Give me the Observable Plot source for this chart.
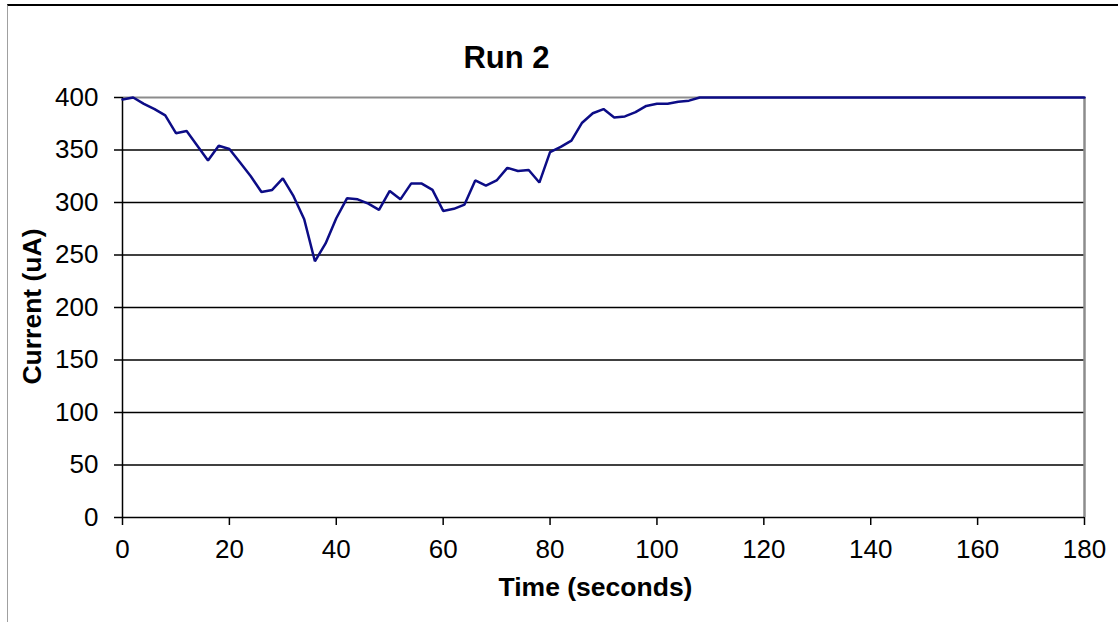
<!DOCTYPE html>
<html>
<head>
<meta charset="utf-8">
<script src="https://cdn.jsdelivr.net/npm/d3@7"></script>
<script src="https://cdn.jsdelivr.net/npm/@observablehq/plot@0.6"></script>
<style>
  html, body { margin: 0; padding: 0; background: #fff; }
  #wrap { position: relative; width: 1118px; height: 622px; overflow: hidden; }
  #frame { position: absolute; left: 7px; top: 4px; right: 0; bottom: 0; border-top: 2px solid #000; border-left: 1px solid #a0a0a0; pointer-events: none; }
  #chart { position: absolute; left: 0; top: 0; }
</style>
</head>
<body>
<div id="wrap"><div id="frame"></div><div id="chart"></div></div>
<script>
const title = "Run 2";
const xLabel = "Time (seconds)";
const yLabel = "Current (uA)";
const xTicks = [0, 20, 40, 60, 80, 100, 120, 140, 160, 180];
const yTicks = [0, 50, 100, 150, 200, 250, 300, 350, 400];

const times = [
  0, 2, 4, 6, 8, 10, 12, 14, 16, 18,
  20, 22, 24, 26, 28, 30, 32, 34, 36, 38,
  40, 42, 44, 46, 48, 50, 52, 54, 56, 58,
  60, 62, 64, 66, 68, 70, 72, 74, 76, 78,
  80, 82, 84, 86, 88, 90, 92, 94, 96, 98,
  100, 102, 104, 106, 108, 110, 112, 114, 116, 118,
  120, 122, 124, 126, 128, 130, 132, 134, 136, 138,
  140, 142, 144, 146, 148, 150, 152, 154, 156, 158,
  160, 162, 164, 166, 168, 170, 172, 174, 176, 178,
  180
];
const current = [
  398, 400, 394, 389, 383, 366, 368, 354, 340, 354,
  351, 338, 325, 310, 312, 323, 306, 284, 244, 261,
  285, 304, 303, 299, 293, 311, 303, 318, 318, 312,
  292, 294, 298, 321, 316, 321, 333, 330, 331, 319,
  348, 353, 359, 376, 385, 389, 381, 382, 386, 392,
  394, 394, 396, 397, 400, 400, 400, 400, 400, 400,
  400, 400, 400, 400, 400, 400, 400, 400, 400, 400,
  400, 400, 400, 400, 400, 400, 400, 400, 400, 400,
  400, 400, 400, 400, 400, 400, 400, 400, 400, 400,
  400
];

const data = times.map((t, i) => ({t, v: current[i]}));
const font = "'Liberation Sans', Arial, sans-serif";

const chart = Plot.plot({
  width: 1118,
  height: 622,
  marginLeft: 122,
  marginRight: 34,
  marginTop: 97,
  marginBottom: 105,
  style: {fontFamily: font, fontSize: "26px", background: "transparent", color: "#000", overflow: "visible"},
  x: {domain: [0, 180], label: null},
  y: {domain: [0, 400], label: null},
  marks: [
    Plot.ruleY(yTicks.filter(d => d > 0 && d < 400), {stroke: "#000", strokeWidth: 1.3}),
    Plot.ruleY([400], {stroke: "#8c8c8c", strokeWidth: 2}),
    Plot.ruleX([180], {stroke: "#8c8c8c", strokeWidth: 2.5}),
    Plot.ruleX([0], {stroke: "#000", strokeWidth: 1.5}),
    Plot.ruleY([0], {stroke: "#000", strokeWidth: 1.5}),
    Plot.axisX({ticks: xTicks, tickSize: 8, tickPadding: 14, tickFormat: d => String(d), label: null, fontSize: 26, strokeWidth: 1.5}),
    Plot.axisY({ticks: yTicks, tickSize: 8, tickPadding: 16, tickFormat: d => String(d), label: null, fontSize: 26, strokeWidth: 1.5}),
    Plot.line(data, {x: "t", y: "v", stroke: "#0c0c86", strokeWidth: 2.5, strokeLinejoin: "miter"}),
    Plot.text([title], {frameAnchor: "top-left", dx: 384, dy: -30, textAnchor: "middle", lineAnchor: "bottom", fontSize: 31, fontWeight: "bold"}),
    Plot.text([xLabel], {frameAnchor: "bottom-left", dx: 473, dy: 78, textAnchor: "middle", lineAnchor: "bottom", fontSize: 26.5, fontWeight: "bold"}),
    Plot.text([yLabel], {frameAnchor: "left", dx: -82, dy: -1, rotate: -90, textAnchor: "middle", lineAnchor: "bottom", fontSize: 26.5, fontWeight: "bold"})
  ]
});
document.getElementById("chart").appendChild(chart);
</script>
</body>
</html>
